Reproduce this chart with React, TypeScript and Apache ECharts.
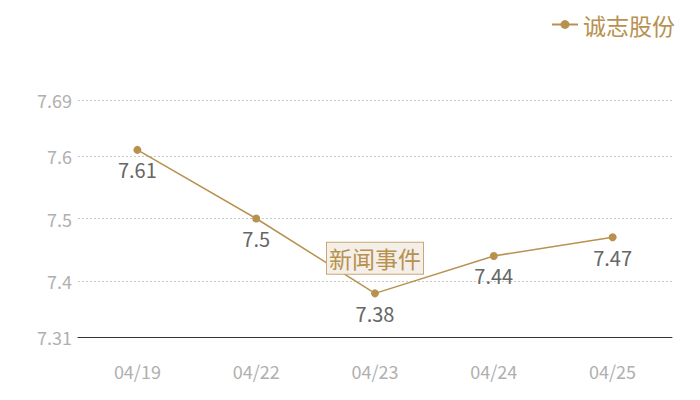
import { useEffect, useRef } from "react";
import * as echarts from "echarts";

const categories = ["04/19", "04/22", "04/23", "04/24", "04/25"];
const prices = [7.61, 7.5, 7.38, 7.44, 7.47];
const seriesName = "诚志股份";
const eventLabel = "新闻事件";
const eventDate = "04/23";
const eventValue = 7.38;
const yMin = 7.31;
const yMax = 7.69;

const GOLD = "#b8914f";
const FONT = "'Noto Sans CJK SC', sans-serif";

export default function App() {
  const chartRef = useRef<HTMLDivElement>(null);

  useEffect(() => {
    if (!chartRef.current) return;
    const chart = echarts.init(chartRef.current, null, { renderer: "svg" });

    const option = {
      animation: false,
      textStyle: { fontFamily: FONT },
      legend: {
        data: [seriesName],
        right: 12,
        top: 0,
        itemWidth: 26,
        itemHeight: 11,
        itemGap: 6,
        textStyle: { color: GOLD, fontSize: 23, fontFamily: FONT }
      },
      grid: { left: 70, right: 20, top: 92, bottom: 55 },
      xAxis: {
        type: "category",
        data: categories,
        boundaryGap: true,
        axisLine: { show: true, lineStyle: { color: "#333", width: 1 } },
        axisTick: { show: false },
        axisLabel: { color: "#b0b0b0", fontSize: 18, margin: 25, fontFamily: FONT }
      },
      yAxis: {
        type: "value",
        min: yMin,
        max: yMax,
        splitNumber: 5,
        axisLine: { show: false },
        axisTick: { show: false },
        axisLabel: { color: "#b0b0b0", fontSize: 18, margin: 6, fontFamily: FONT },
        splitLine: { show: true, lineStyle: { color: "#c8c8c8", type: [2, 2], width: 1 } }
      },
      series: [
        {
          name: seriesName,
          type: "line",
          data: prices,
          symbol: "circle",
          symbolSize: 8,
          itemStyle: { color: GOLD },
          lineStyle: { color: GOLD, width: 1.5 },
          label: {
            show: true,
            position: "bottom",
            distance: 6,
            color: "#666",
            fontSize: 20,
            fontFamily: FONT
          },
          markPoint: {
            symbol: "rect",
            symbolSize: 0,
            data: [
              {
                coord: [eventDate, eventValue],
                label: {
                  show: true,
                  formatter: eventLabel,
                  offset: [0, -35],
                  color: GOLD,
                  fontSize: 23,
                  fontFamily: FONT,
                  backgroundColor: "#f4efe8",
                  borderColor: "#c9a877",
                  borderWidth: 1,
                  padding: [5, 2, 3, 2]
                }
              }
            ]
          }
        }
      ]
    };

    chart.setOption(option);
    return () => {
      chart.dispose();
    };
  }, []);

  return <div ref={chartRef} style={{ width: "684px", height: "384px" }} />;
}
